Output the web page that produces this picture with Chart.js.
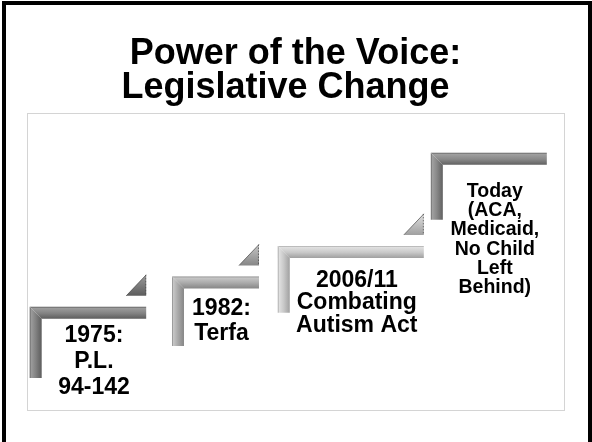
<!DOCTYPE html>
<html>
<head>
<meta charset="utf-8">
<script src="https://cdn.jsdelivr.net/npm/chart.js@4.4.0/dist/chart.umd.min.js"></script>
<style>
  html, body { margin: 0; padding: 0; background: #fff; }
</style>
</head>
<body>
<canvas id="canvas" width="592" height="442"></canvas>
<script>
// step-up process: one L shaped step per milestone
var titleLines = ['Power of the Voice:', 'Legislative Change  '];
var steps = ['1975', '1982', '2006/11', 'Today'];
var stepText = [
  ['1975:', 'P.L.', '94-142'],
  ['1982:', 'Terfa'],
  ['2006/11', 'Combating', 'Autism Act'],
  ['Today', '(ACA,', 'Medicaid,', 'No Child', 'Left', 'Behind)']
];
// values on the panel axes (0-100 both ways)
var stepStart = [0.5, 27.0, 46.7, 75.2];
var stepEnd = [22.2, 43.2, 73.9, 96.8];
var stepLevel = [34.7, 44.9, 55.2, 86.5];
var stepFloor = [10.8, 21.5, 32.7, 64.0];

var FONT = '"Liberation Sans", Arial, Helvetica, sans-serif';

// Draws the frame, the L steps, the arrows and the captions
var stepShapes = {
  id: 'stepShapes',
  beforeDraw: function(chart) {
    var ctx = chart.ctx, a = chart.chartArea;
    ctx.save();
    ctx.fillStyle = '#fff';
    ctx.fillRect(0, 0, chart.width, chart.height);
    ctx.strokeStyle = '#d4d4d4';
    ctx.lineWidth = 1;
    ctx.strokeRect(Math.round(a.left) + 0.5, Math.round(a.top) + 0.5,
      Math.round(a.right - a.left), Math.round(a.bottom - a.top));
    // slide frame, bottom edge falls outside the picture
    ctx.strokeStyle = '#000';
    ctx.lineWidth = 4;
    ctx.strokeRect(4, 3, 586, 460);
    ctx.restore();
  },
  afterDatasetsDraw: function(chart, args, opts) {
    var ctx = chart.ctx;
    var xs = chart.scales.x, ys = chart.scales.y;
    var t = opts.thickness;
    var n = chart.data.datasets.length;

    chart.data.datasets.forEach(function(ds, i) {
      var bottom = ds.data[0], corner = ds.data[1], end = ds.data[2];
      var x0 = xs.getPixelForValue(corner.x);
      var x1 = xs.getPixelForValue(end.x);
      var y0 = ys.getPixelForValue(corner.y);
      var y1 = ys.getPixelForValue(bottom.y);
      var c = opts.shades[i];

      ctx.save();
      // riser
      var g = ctx.createLinearGradient(x0, 0, x0 + t, 0);
      g.addColorStop(0, c.dark);
      g.addColorStop(0.12, c.light);
      g.addColorStop(0.5, c.mid);
      g.addColorStop(1, c.dark);
      ctx.fillStyle = g;
      ctx.beginPath();
      ctx.moveTo(x0, y0);
      ctx.lineTo(x0 + t, y0 + t);
      ctx.lineTo(x0 + t, y1);
      ctx.lineTo(x0, y1);
      ctx.closePath();
      ctx.fill();

      // tread
      g = ctx.createLinearGradient(0, y0, 0, y0 + t);
      g.addColorStop(0, c.dark);
      g.addColorStop(0.12, c.light);
      g.addColorStop(0.55, c.mid);
      g.addColorStop(1, c.dark);
      ctx.fillStyle = g;
      ctx.beginPath();
      ctx.moveTo(x0, y0);
      ctx.lineTo(x1, y0);
      ctx.lineTo(x1, y0 + t);
      ctx.lineTo(x0 + t, y0 + t);
      ctx.closePath();
      ctx.fill();

      // small arrow towards the next step
      if (i < n - 1) {
        var tb = y0 - opts.arrowGap, tw = opts.arrowW, th = opts.arrowH;
        g = ctx.createLinearGradient(0, tb - th, 0, tb);
        g.addColorStop(0, c.light);
        g.addColorStop(1, c.dark);
        ctx.fillStyle = g;
        ctx.beginPath();
        ctx.moveTo(x1 - tw, tb);
        ctx.lineTo(x1, tb);
        ctx.lineTo(x1, tb - th);
        ctx.closePath();
        ctx.fill();
        ctx.strokeStyle = 'rgba(70,70,70,0.7)';
        ctx.lineWidth = 1;
        ctx.beginPath();
        ctx.moveTo(x1 - tw, tb);
        ctx.lineTo(x1, tb - th);
        ctx.stroke();
        ctx.setLineDash([1.5, 1.5]);
        ctx.beginPath();
        ctx.moveTo(x1 - 0.5, tb - th);
        ctx.lineTo(x1 - 0.5, tb);
        ctx.stroke();
        ctx.setLineDash([]);
      }

      // caption
      var lab = opts.labels[i];
      ctx.fillStyle = '#000';
      ctx.font = 'bold ' + lab.size + 'px ' + FONT;
      ctx.textAlign = 'center';
      ctx.textBaseline = 'alphabetic';
      var cx = (x0 + t + x1) / 2;
      stepText[i].forEach(function(line, k) {
        ctx.fillText(line, cx, y0 + lab.offset + k * lab.lineHeight);
      });
      ctx.restore();
    });
  }
};

var datasets = steps.map(function(name, i) {
  return {
    label: name,
    data: [
      {x: stepStart[i], y: stepFloor[i]},
      {x: stepStart[i], y: stepLevel[i]},
      {x: stepEnd[i], y: stepLevel[i]}
    ],
    showLine: false,
    pointRadius: 0
  };
});

window.onload = function() {
  var ctx = document.getElementById('canvas').getContext('2d');
  window.myChart = new Chart(ctx, {
    type: 'scatter',
    data: {datasets: datasets},
    plugins: [stepShapes],
    options: {
      responsive: false,
      animation: false,
      layout: {padding: {left: 27, right: 28, top: 0, bottom: 32}},
      scales: {
        x: {type: 'linear', min: 0, max: 100, display: false},
        y: {type: 'linear', min: 0, max: 100, display: false}
      },
      plugins: {
        legend: {display: false},
        tooltip: {enabled: false},
        title: {
          display: true,
          text: titleLines,
          color: '#000',
          font: {family: FONT, size: 36, weight: 'bold', lineHeight: 0.94},
          padding: {top: 37.5, bottom: 7.5}
        },
        stepShapes: {
          thickness: 12,
          arrowGap: 11,
          arrowW: 20,
          arrowH: 21,
          shades: [
            {light: '#9c9c9c', mid: '#828282', dark: '#5c5c5c'},
            {light: '#c6c6c6', mid: '#a9a9a9', dark: '#868686'},
            {light: '#e0e0e0', mid: '#c8c8c8', dark: '#a0a0a0'},
            {light: '#a0a0a0', mid: '#888888', dark: '#606060'}
          ],
          labels: [
            {size: 23, lineHeight: 26, offset: 35},
            {size: 23, lineHeight: 25, offset: 38},
            {size: 23, lineHeight: 22.5, offset: 41},
            {size: 19.5, lineHeight: 19.3, offset: 44}
          ]
        }
      }
    }
  });
};
</script>
</body>
</html>
